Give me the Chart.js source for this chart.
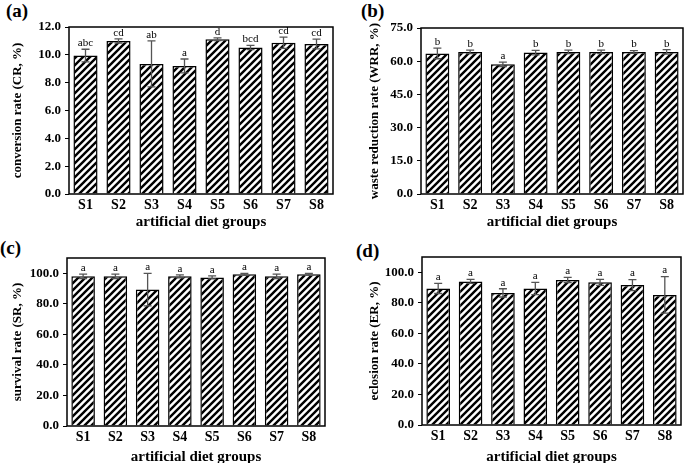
<!DOCTYPE html>
<html>
<head>
<meta charset="utf-8">
<script src="https://cdn.jsdelivr.net/npm/chart.js@4.4.1/dist/chart.umd.min.js"></script>
<style>
  body { margin: 0; background: #fff; width: 685px; height: 463px; position: relative; overflow: hidden; }
  canvas { position: absolute; }
  .tag { position: absolute; font: bold 19px "Liberation Serif", "Times New Roman", serif; color: #000; line-height: 1; }
</style>
</head>
<body>
<div class="tag" style="left:6px;top:1px">(a)</div>
<div class="tag" style="left:361px;top:1px">(b)</div>
<div class="tag" style="left:0px;top:238px">(c)</div>
<div class="tag" style="left:356px;top:241px">(d)</div>
<canvas id="chartA" width="340" height="230" style="left:0;top:0"></canvas>
<canvas id="chartB" width="345" height="230" style="left:340px;top:0"></canvas>
<canvas id="chartC" width="340" height="233" style="left:0;top:230px"></canvas>
<canvas id="chartD" width="345" height="233" style="left:340px;top:230px"></canvas>
<script>
const groups = ["S1", "S2", "S3", "S4", "S5", "S6", "S7", "S8"];

// (a) conversion rate
const crMean = [9.95, 11.0, 9.35, 9.2, 11.12, 10.53, 10.87, 10.78];
const crErr = [0.45, 0.15, 1.65, 0.5, 0.1, 0.15, 0.4, 0.35];
const crLetters = ["abc", "cd", "ab", "a", "d", "bcd", "cd", "cd"];

// (b) waste reduction rate
const wrrMean = [63.5, 64.2, 58.6, 63.9, 64.2, 64.2, 64.2, 64.2];
const wrrErr = [2.4, 0.8, 1.0, 1.0, 0.8, 0.8, 0.6, 1.0];
const wrrLetters = ["b", "b", "a", "b", "b", "b", "b", "b"];

// (c) survival rate
const srMean = [98.0, 98.0, 89.3, 98.0, 97.3, 99.3, 98.0, 99.3];
const srErr = [1.5, 1.5, 10.6, 1.0, 1.0, 0.6, 1.5, 0.6];
const srLetters = ["a", "a", "a", "a", "a", "a", "a", "a"];

// (d) eclosion rate
const erMean = [89.4, 94.0, 86.5, 89.4, 95.0, 93.4, 91.6, 85.2];
const erErr = [3.3, 1.3, 2.7, 4.0, 1.7, 2.0, 3.6, 12.0];
const erLetters = ["a", "a", "a", "a", "a", "a", "a", "a"];

const SERIF = '"Liberation Serif", "Times New Roman", serif';

function hatch() {
  const s = 7;
  const c = document.createElement("canvas");
  c.width = s;
  c.height = s;
  const g = c.getContext("2d");
  g.fillStyle = "#fff";
  g.fillRect(0, 0, s, s);
  g.strokeStyle = "#000";
  g.lineWidth = 2.4;
  g.beginPath();
  g.moveTo(-1, s + 1); g.lineTo(s + 1, -1);
  g.moveTo(-1, 1); g.lineTo(1, -1);
  g.moveTo(s - 1, s + 1); g.lineTo(s + 1, s - 1);
  g.stroke();
  return g.createPattern(c, "repeat");
}

// frame, error bars and significance letters
const extras = {
  id: "extras",
  afterDatasetsDraw(chart, args, opts) {
    const { ctx, chartArea: a } = chart;
    const x = chart.scales.x;
    const y = chart.scales.y;
    ctx.save();
    ctx.strokeStyle = "#555";
    ctx.lineWidth = 1.3;
    opts.mean.forEach((m, i) => {
      const cx = x.getPixelForValue(i);
      const top = y.getPixelForValue(m + opts.err[i]);
      const bot = y.getPixelForValue(m - opts.err[i]);
      ctx.beginPath();
      ctx.moveTo(cx, top); ctx.lineTo(cx, bot);
      ctx.moveTo(cx - 4, top); ctx.lineTo(cx + 4, top);
      ctx.moveTo(cx - 4, bot); ctx.lineTo(cx + 4, bot);
      ctx.stroke();
      ctx.fillStyle = "#000";
      ctx.font = "11px " + SERIF;
      ctx.textAlign = "center";
      ctx.textBaseline = "bottom";
      ctx.fillText(opts.letters[i], cx, top - 0.5);
    });
    ctx.strokeStyle = "#000";
    ctx.lineWidth = 1.5;
    ctx.strokeRect(a.left, a.top, a.right - a.left, a.bottom - a.top);
    ctx.restore();
  },
};

const panels = [
  { id: "chartA", box: [0, 0, 340, 230], plot: [69, 27, 333, 194], max: 12, step: 2, last: 12,
    title: "conversion rate (CR, %)", yPad: 10, xPad: 2, mean: crMean, err: crErr, letters: crLetters },
  { id: "chartB", box: [340, 0, 345, 230], plot: [421, 28, 683, 194], max: 75, step: 15, last: 75,
    title: "waste reduction rate (WRR, %)", yPad: 27, xPad: 2, mean: wrrMean, err: wrrErr, letters: wrrLetters },
  { id: "chartC", box: [0, 230, 340, 233], plot: [67, 258, 325, 426], max: 110, step: 20, last: 100,
    title: "survival rate (SR, %)", yPad: 10, xPad: 0, mean: srMean, err: srErr, letters: srLetters },
  { id: "chartD", box: [340, 230, 345, 233], plot: [422, 257, 681, 425], max: 110, step: 20, last: 100,
    title: "eclosion rate (ER, %)", yPad: 27, xPad: 0, mean: erMean, err: erErr, letters: erLetters },
];

const pattern = hatch();

panels.forEach((p) => {
  const [bx, by, bw, bh] = p.box;
  const [pl, pt, pr, pb] = p.plot;
  new Chart(document.getElementById(p.id), {
    type: "bar",
    data: {
      labels: groups,
      datasets: [{
        data: p.mean,
        backgroundColor: pattern,
        borderColor: "#000",
        borderWidth: 1.5,
        barPercentage: 0.73,
        categoryPercentage: 1,
      }],
    },
    options: {
      responsive: false,
      animation: false,
      devicePixelRatio: 1,
      layout: { padding: { left: 0, top: pt - by, right: bx + bw - pr, bottom: 0 } },
      plugins: {
        legend: { display: false },
        tooltip: { enabled: false },
        extras: { mean: p.mean, err: p.err, letters: p.letters },
      },
      scales: {
        x: {
          grid: { display: false, drawTicks: false },
          border: { display: false },
          ticks: { color: "#000", padding: 3, font: { family: SERIF, size: 14, weight: "bold" } },
          title: {
            display: true, text: "artificial diet groups", color: "#000",
            font: { family: SERIF, size: 15, weight: "bold", lineHeight: 0.8 },
            padding: { top: 0, bottom: p.xPad },
          },
          afterFit(s) { s.height = by + bh - pb; },
        },
        y: {
          min: 0,
          max: p.max,
          grid: { drawOnChartArea: false, tickLength: 4, color: "#000" },
          border: { display: false },
          ticks: {
            stepSize: p.step, color: "#000", padding: 4,
            font: { family: SERIF, size: 13, weight: "bold" },
            callback: (v) => Number(v).toFixed(1),
          },
          afterBuildTicks(s) { s.ticks = s.ticks.filter((t) => t.value <= p.last); },
          title: {
            display: true, text: p.title, color: "#000",
            font: { family: SERIF, size: 13, weight: "bold" },
            padding: { top: p.yPad, bottom: 0 },
          },
          afterFit(s) { s.width = pl - bx; },
        },
      },
    },
    plugins: [extras],
  });
});
</script>
</body>
</html>
